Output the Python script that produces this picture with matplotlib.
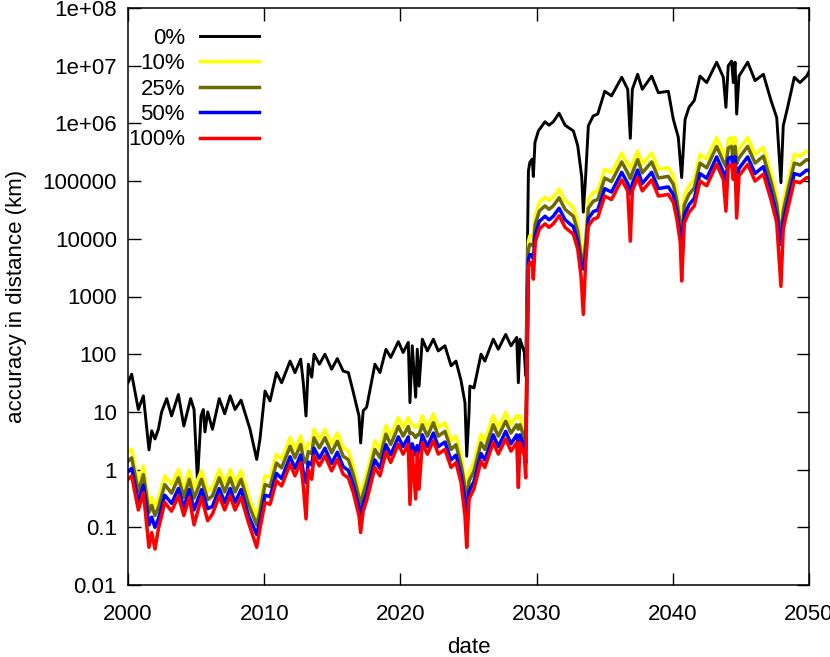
import matplotlib
matplotlib.use("Agg")
import matplotlib.pyplot as plt

plt.rcParams['font.family'] = ['Liberation Sans', 'DejaVu Sans']

# black curve (0%)
years_0 = [2000.0, 2000.27, 2000.76, 2001.13, 2001.54, 2001.74, 2001.98, 2002.23, 2002.47, 2002.84,
           2003.2, 2003.7, 2004.1, 2004.6, 2004.85, 2005.1, 2005.36, 2005.53, 2005.65, 2005.85,
           2006.2, 2006.7, 2007.1, 2007.5, 2007.86, 2008.3, 2008.96, 2009.45, 2009.69, 2010.06,
           2010.43, 2010.9, 2011.28, 2011.9, 2012.26, 2012.68, 2012.87, 2013.07, 2013.24, 2013.49,
           2013.66, 2014.05, 2014.46, 2014.95, 2015.37, 2015.8, 2016.18, 2016.54, 2016.96, 2017.08,
           2017.27, 2017.52, 2018.13, 2018.5, 2018.94, 2019.29, 2019.85, 2020.2, 2020.58, 2020.7,
           2020.87, 2021.12, 2021.24, 2021.37, 2021.61, 2021.98, 2022.42, 2022.78, 2023.27, 2023.72,
           2024.08, 2024.45, 2024.74, 2024.87, 2025.04, 2025.1, 2025.4, 2025.92, 2026.2, 2026.82,
           2027.19, 2027.73, 2028.12, 2028.54, 2028.66, 2028.78, 2029.1, 2029.2, 2029.4, 2029.5,
           2029.68, 2029.76, 2029.88, 2030.13, 2030.62, 2030.91, 2031.23, 2031.65, 2032.09, 2032.7,
           2033.02, 2033.31, 2033.43, 2033.6, 2033.8, 2034.16, 2034.49, 2035.0, 2035.5, 2036.25,
           2036.69, 2036.88, 2037.03, 2037.42, 2037.76, 2038.45, 2038.94, 2039.67, 2040.04, 2040.4,
           2040.65, 2040.9, 2041.19, 2041.58, 2042.0, 2042.49, 2043.22, 2043.71, 2043.9, 2044.07,
           2044.32, 2044.44, 2044.57, 2044.69, 2044.86, 2045.5, 2046.04, 2046.65, 2047.21, 2047.63,
           2047.94, 2048.11, 2048.43, 2048.92, 2049.34, 2049.83, 2050.0]
acc_0 = [32, 45, 11, 19, 2.2, 4.7, 3.4, 5.0, 10, 17,
         8.5, 20, 5.7, 17, 11, 0.63, 8.5, 11, 4.5, 10,
         5.0, 17, 9.3, 19, 11, 16, 5.0, 1.5, 3.4, 23,
         15.5, 48, 32, 76, 48, 82, 32, 8.5, 67, 40,
         100, 67, 100, 55, 84, 51, 48, 22, 8.5, 2.9,
         10.5, 12, 67, 48, 122, 88, 165, 107, 160, 14.5,
         140, 18, 122, 28, 182, 114, 182, 114, 140, 63,
         76, 35, 14.5, 1.7, 9.8, 28, 26, 100, 76, 182,
         122, 220, 140, 195, 32, 182, 107, 42, 1.5e5, 2.1e5,
         2.4e5, 1.2e5, 4.7e5, 7.4e5, 1.07e6, 9.3e5, 1.07e6, 1.5e6, 9.3e5, 7.4e5,
         4.1e5, 1.2e5, 2.9e4, 1.2e5, 9.1e5, 1.35e6, 1.45e6, 3.6e6, 3.0e6, 6.3e6,
         3.9e6, 5.5e5, 3.9e6, 7.1e6, 3.9e6, 6.6e6, 3.4e6, 3.6e6, 1.17e6, 5.8e5,
         1.15e5, 1.17e6, 1.9e6, 2.5e6, 6.6e6, 5.1e6, 1.15e7, 6.3e6, 1.9e6, 1.0e7,
         1.2e7, 5.1e6, 1.15e7, 1.45e6, 6.6e6, 1.15e7, 5.5e6, 7.1e6, 2.5e6, 1.26e6,
         9.4e4, 9.1e5, 1.9e6, 6.3e6, 5.1e6, 6.6e6, 7.9e6]

# coloured curves (10%, 25%, 50%, 100%) share one date grid
years_c = [2000.0, 2000.27, 2000.76, 2001.13, 2001.54, 2001.74, 2001.98, 2002.23, 2002.7, 2003.2,
           2003.7, 2004.1, 2004.5, 2004.85, 2005.4, 2005.85, 2006.2, 2006.7, 2007.1, 2007.5,
           2007.86, 2008.3, 2008.85, 2009.45, 2009.69, 2010.06, 2010.43, 2010.9, 2011.28, 2011.9,
           2012.26, 2012.68, 2012.87, 2013.07, 2013.24, 2013.49, 2013.66, 2014.05, 2014.46, 2014.95,
           2015.37, 2015.8, 2016.18, 2016.54, 2016.96, 2017.08, 2017.27, 2017.52, 2018.13, 2018.5,
           2018.94, 2019.29, 2019.85, 2020.2, 2020.58, 2020.7, 2020.87, 2021.12, 2021.24, 2021.37,
           2021.61, 2021.98, 2022.42, 2022.78, 2023.27, 2023.72, 2024.08, 2024.45, 2024.74, 2024.87,
           2025.04, 2025.4, 2025.92, 2026.2, 2026.82, 2027.19, 2027.73, 2028.12, 2028.54, 2028.66,
           2028.78, 2029.1, 2029.2, 2029.4, 2029.5, 2029.68, 2029.76, 2029.9, 2030.2, 2030.62,
           2030.91, 2031.23, 2031.65, 2032.09, 2032.7, 2033.02, 2033.26, 2033.43, 2033.6, 2033.8,
           2034.16, 2034.49, 2035.0, 2035.5, 2036.25, 2036.69, 2036.88, 2037.03, 2037.42, 2037.76,
           2038.45, 2038.94, 2039.67, 2040.04, 2040.3, 2040.55, 2040.65, 2040.85, 2041.19, 2041.58,
           2042.0, 2042.49, 2043.22, 2043.71, 2043.9, 2044.07, 2044.32, 2044.44, 2044.57, 2044.69,
           2044.86, 2045.5, 2046.04, 2046.65, 2047.21, 2047.63, 2047.94, 2048.11, 2048.43, 2048.92,
           2049.34, 2049.83, 2050.0]

acc_100 = [0.68, 0.78, 0.20, 0.40, 0.045, 0.081, 0.042, 0.093, 0.27, 0.19,
           0.35, 0.16, 0.33, 0.11, 0.33, 0.13, 0.17, 0.35, 0.20, 0.35,
           0.20, 0.33, 0.12, 0.045, 0.095, 0.27, 0.25, 0.64, 0.52, 1.24,
           0.78, 1.33, 0.52, 0.14, 1.0, 0.68, 1.74, 1.16, 1.74, 0.95,
           1.5, 0.83, 0.72, 0.40, 0.16, 0.081, 0.19, 0.29, 1.09, 0.78,
           2.0, 1.33, 2.75, 1.85, 2.75, 0.25, 2.1, 0.31, 1.95, 0.46,
           2.94, 1.85, 3.16, 1.86, 2.24, 1.09, 1.32, 0.60, 0.16, 0.045,
           0.31, 0.46, 1.41, 1.09, 2.95, 1.86, 3.39, 2.09, 2.95, 0.49,
           2.95, 1.74, 0.72, 3200, 3900, 3900, 2000, 8700, 14800, 18200,
           15800, 18200, 25100, 15800, 12000, 6600, 2300, 490, 3900, 16600,
           21900, 23400, 55000, 47900, 105000, 67600, 9100, 67600, 115000, 67600,
           105000, 55000, 58900, 42700, 21900, 8700, 1860, 19000, 28800, 37200,
           100000, 83000, 195000, 107000, 30200, 182000, 195000, 107000, 195000, 22900,
           123000, 195000, 100000, 132000, 47900, 19000, 1500, 14800, 32400, 100000,
           93300, 115000, 112000]

acc_50 = [0.92, 1.05, 0.27, 0.54, 0.11, 0.15, 0.10, 0.14, 0.36, 0.26,
          0.47, 0.22, 0.45, 0.20, 0.45, 0.21, 0.23, 0.47, 0.27, 0.47,
          0.27, 0.45, 0.16, 0.075, 0.13, 0.36, 0.34, 0.86, 0.70, 1.67,
          1.05, 1.8, 0.9, 0.6, 1.35, 1.2, 2.35, 1.57, 2.35, 1.28,
          2.0, 1.12, 0.97, 0.54, 0.22, 0.15, 0.26, 0.39, 1.47, 1.05,
          2.7, 1.8, 3.7, 2.5, 3.7, 1.6, 2.8, 1.8, 2.6, 2.0,
          4.0, 2.5, 4.3, 2.5, 3.0, 1.47, 1.78, 0.81, 0.3, 0.12,
          0.42, 0.62, 1.9, 1.47, 4.0, 2.5, 4.6, 2.8, 4.0, 2.6,
          4.0, 2.35, 1.3, 4500, 5300, 5300, 4500, 11700, 20000, 24600,
          21300, 24600, 33900, 21300, 16200, 8900, 3400, 3000, 5300, 22400,
          29600, 31600, 74000, 64700, 142000, 91000, 60000, 91000, 155000, 91000,
          142000, 74000, 79500, 57600, 29600, 11700, 8000, 25700, 38900, 50200,
          135000, 112000, 263000, 144000, 100000, 246000, 263000, 144000, 263000, 100000,
          166000, 263000, 135000, 178000, 64700, 25700, 8000, 20000, 43700, 135000,
          126000, 155000, 151000]

acc_25 = [1.4, 1.6, 0.41, 0.82, 0.18, 0.24, 0.16, 0.22, 0.55, 0.39,
          0.72, 0.33, 0.68, 0.32, 0.68, 0.30, 0.35, 0.72, 0.41, 0.72,
          0.41, 0.68, 0.25, 0.11, 0.19, 0.55, 0.51, 1.3, 1.07, 2.54,
          1.6, 2.73, 1.6, 1.3, 2.05, 1.9, 3.57, 2.38, 3.57, 1.95,
          3.1, 1.7, 1.48, 0.82, 0.33, 0.22, 0.39, 0.6, 2.23, 1.6,
          4.1, 2.73, 5.6, 3.8, 5.6, 4.2, 4.3, 3.6, 4.0, 4.0,
          6.0, 3.8, 6.5, 3.8, 4.6, 2.23, 2.7, 1.23, 0.5, 0.18,
          0.64, 0.94, 2.9, 2.23, 6.0, 3.8, 6.9, 4.3, 6.0, 5.0,
          6.0, 3.57, 2.3, 6500, 8000, 8000, 7500, 17800, 30300, 37300,
          32400, 37300, 51500, 32400, 24600, 13500, 5000, 4000, 8000, 34000,
          44900, 48000, 113000, 98000, 215000, 139000, 110000, 139000, 236000, 139000,
          215000, 113000, 121000, 87500, 44900, 17800, 10000, 39000, 59000, 76300,
          205000, 170000, 400000, 219000, 180000, 373000, 400000, 219000, 400000, 200000,
          252000, 400000, 205000, 271000, 98000, 39000, 10000, 30300, 66400, 205000,
          191000, 236000, 230000]

acc_10 = [2.0, 2.26, 0.58, 1.16, 0.25, 0.33, 0.23, 0.31, 0.78, 0.55,
          1.0, 0.46, 0.96, 0.48, 0.96, 0.42, 0.49, 1.0, 0.58, 1.0,
          0.58, 0.96, 0.35, 0.15, 0.28, 0.78, 0.73, 1.86, 1.5, 3.6,
          2.26, 3.86, 2.5, 2.2, 2.9, 2.7, 5.0, 3.36, 5.0, 2.75,
          4.35, 2.4, 2.1, 1.16, 0.46, 0.3, 0.55, 0.84, 3.16, 2.26,
          5.8, 3.86, 8.0, 5.4, 8.0, 6.5, 6.1, 5.4, 5.6, 5.8,
          8.5, 5.4, 9.2, 5.4, 6.5, 3.16, 3.8, 1.74, 0.7, 0.25,
          0.9, 1.33, 4.1, 3.16, 8.6, 5.4, 9.8, 6.1, 8.6, 7.6,
          8.6, 5.0, 3.5, 9000, 11300, 11300, 11000, 25000, 43000, 52800,
          45800, 52800, 72800, 45800, 34800, 19100, 7000, 5000, 11300, 48100,
          63500, 67900, 160000, 139000, 305000, 196000, 170000, 196000, 334000, 196000,
          305000, 160000, 171000, 124000, 63500, 25000, 12600, 55100, 83500, 108000,
          290000, 241000, 566000, 310000, 260000, 528000, 566000, 310000, 566000, 300000,
          357000, 566000, 290000, 383000, 139000, 55100, 12600, 43000, 94000, 290000,
          271000, 334000, 325000]

labels = ['0%', '10%', '25%', '50%', '100%']
colors = ['black', '#ffff00', '#6b6b00', '#0000ff', '#ff0000']

ytick_vals = [0.01, 0.1, 1, 10, 100, 1000, 10000, 100000, 1e6, 1e7, 1e8]
ytick_labels = ['0.01', '0.1', '1', '10', '100', '1000', '10000', '100000',
                '1e+06', '1e+07', '1e+08']
xtick_vals = [2000, 2010, 2020, 2030, 2040, 2050]

fig = plt.figure(figsize=(8.30, 6.57), dpi=100)
ax = fig.add_axes([128 / 830, 1 - 585 / 657, (809 - 128) / 830, (585 - 8) / 657])

ax.plot(years_0, acc_0, color=colors[0], lw=2.1, label=labels[0])
ax.plot(years_c, acc_10, color=colors[1], lw=2.5, label=labels[1])
ax.plot(years_c, acc_25, color=colors[2], lw=2.5, label=labels[2])
ax.plot(years_c, acc_50, color=colors[3], lw=2.5, label=labels[3])
ax.plot(years_c, acc_100, color=colors[4], lw=2.5, label=labels[4])

ax.set_yscale('log')
ax.set_xlim(2000, 2050)
ax.set_ylim(0.01, 1e8)
ax.set_yticks(ytick_vals)
ax.set_yticklabels(ytick_labels)
ax.minorticks_off()
ax.set_xticks(xtick_vals)
ax.tick_params(direction='in', length=9, width=1, labelsize=16,
               top=True, right=True, colors='black')
ax.tick_params(axis='y', pad=8)
ax.tick_params(axis='x', pad=14)
for s in ax.spines.values():
    s.set_linewidth(1.1)

ax.set_xlabel('date', fontsize=16, labelpad=8)
ax.set_ylabel('accuracy in distance (km)', fontsize=16, labelpad=11)

ax.legend(loc='upper right', bbox_to_anchor=((259 - 128) / 681, 0.966), frameon=False,
          markerfirst=False, fontsize=16, handlelength=2.65, handletextpad=0.68,
          labelspacing=0.2, borderpad=0, borderaxespad=0)

fig.savefig('out.png', dpi=100)
